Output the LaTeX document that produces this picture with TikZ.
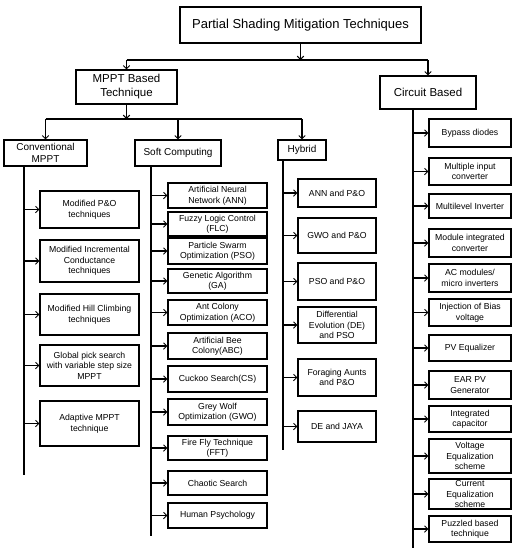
\documentclass[tikz,border=0pt]{standalone}
\usepackage{fontspec}
\setmainfont{Liberation Sans}
\usetikzlibrary{arrows.meta}
\begin{document}
\begin{tikzpicture}[x=1pt,y=-1pt,
  box/.style={draw, line width=1.2pt, inner sep=1pt, align=center},
  lvla/.style={box, font=\fontsize{13}{15}\selectfont},
  lvlb/.style={box, font=\fontsize{11.5}{14}\selectfont},
  lvlc/.style={box, font=\fontsize{10}{12}\selectfont},
  leaf/.style={box, font=\fontsize{8.7}{10.5}\selectfont},
  lleaf/.style={leaf, minimum width=99pt},
  sleaf/.style={leaf, minimum width=99pt},
  hleaf/.style={leaf, minimum width=78pt},
  cleaf/.style={leaf, minimum width=82pt},
  conn/.style={line width=1.2pt},
  arr/.style={conn, -{Straight Barb[length=3.2pt,width=6.5pt,line width=1pt]}}
]
\useasboundingbox (0,0) rectangle (517,550);

% top levels
\node[lvla, minimum width=241pt, minimum height=36pt] (title) at (300.5,25) {Partial Shading Mitigation Techniques};
\node[lvlb, minimum width=101pt, minimum height=34pt] (mppt) at (126.5,87) {MPPT Based\\Technique};
\node[lvlb, minimum width=96pt, minimum height=33pt] (circ) at (428,92.5) {Circuit Based};
\node[lvlc, minimum width=83pt, minimum height=26pt] (conv) at (45.5,153) {Conventional\\MPPT};
\node[lvlc, minimum width=86pt, minimum height=26pt] (soft) at (178,153) {Soft Computing};
\node[lvlc, minimum width=48pt, minimum height=20pt] (hyb) at (302,150) {Hybrid};

% conventional leaves
\node[lleaf, minimum height=37pt] (m1) at (89.5,209.5) {Modified P\&O\\techniques};
\node[lleaf, minimum height=42pt] (m2) at (89.5,261) {Modified Incremental\\Conductance\\techniques};
\node[lleaf, minimum height=41pt] (m3) at (89.5,314.5) {Modified Hill Climbing\\techniques};
\node[lleaf, minimum height=41pt] (m4) at (89.5,365.5) {Global pick search\\with variable step size\\MPPT};
\node[lleaf, minimum height=45pt] (m5) at (89.5,423.5) {Adaptive MPPT\\technique};

% soft computing leaves
\node[sleaf, minimum height=25pt] (s1) at (217.5,195.5) {Artificial Neural\\Network (ANN)};
\node[sleaf, minimum height=24pt] (s2) at (217.5,224) {Fuzzy Logic Control\\(FLC)};
\node[sleaf, minimum height=26pt] (s3) at (217.5,251) {Particle Swarm\\Optimization (PSO)};
\node[sleaf, minimum height=24pt] (s4) at (217.5,281) {Genetic Algorithm\\(GA)};
\node[sleaf, minimum height=25pt] (s5) at (217.5,312.5) {Ant Colony\\Optimization (ACO)};
\node[sleaf, minimum height=26pt] (s6) at (217.5,346) {Artificial Bee\\Colony(ABC)};
\node[sleaf, minimum height=26pt] (s7) at (217.5,379) {Cuckoo Search(CS)};
\node[sleaf, minimum height=26pt] (s8) at (217.5,412) {Grey Wolf\\Optimization (GWO)};
\node[sleaf, minimum height=24pt] (s9) at (217.5,448) {Fire Fly Technique\\(FFT)};
\node[sleaf, minimum height=24pt] (s10) at (217.5,483) {Chaotic Search};
\node[sleaf, minimum height=25pt] (s11) at (217.5,515.5) {Human Psychology};

% hybrid leaves
\node[hleaf, minimum height=28pt] (h1) at (337,193) {ANN and P\&O};
\node[hleaf, minimum height=35pt] (h2) at (337,235.5) {GWO and P\&O};
\node[hleaf, minimum height=37pt] (h3) at (337,281.5) {PSO and P\&O};
\node[hleaf, minimum height=36pt] (h4) at (337,325) {Differential\\Evolution (DE)\\and PSO};
\node[hleaf, minimum height=37pt] (h5) at (337,377.5) {Foraging Aunts\\and P\&O};
\node[hleaf, minimum height=31pt] (h6) at (337,426.5) {DE and JAYA};

% circuit leaves
\node[cleaf, minimum height=28pt] (c1) at (470,133) {Bypass diodes};
\node[cleaf, minimum height=27pt] (c2) at (470,171.5) {Multiple input\\converter};
\node[cleaf, minimum height=24pt] (c3) at (470,206) {Multilevel Inverter};
\node[cleaf, minimum height=28pt] (c4) at (470,243) {Module integrated\\converter};
\node[cleaf, minimum height=28pt] (c5) at (470,278) {AC modules/\\micro inverters};
\node[cleaf, minimum height=27pt] (c6) at (470,312.5) {Injection of Bias\\voltage};
\node[cleaf, minimum height=26pt] (c7) at (470,348) {PV Equalizer};
\node[cleaf, minimum height=28pt] (c8) at (470,385) {EAR PV\\Generator};
\node[cleaf, minimum height=26pt] (c9) at (470,419) {Integrated\\capacitor};
\node[cleaf, minimum height=34pt] (c10) at (470,456) {Voltage\\Equalization\\scheme};
\node[cleaf, minimum height=30pt] (c11) at (470,494) {Current\\Equalization\\scheme};
\node[cleaf, minimum height=26pt] (c12) at (470,529) {Puzzled based\\technique};

% junctions and line ends
\coordinate (j1) at (300.5,60);
\coordinate (j2) at (126.5,119);
\coordinate (cvl) at (24,475);
\coordinate (sfl) at (151,536);
\coordinate (hyl) at (283,450);
\coordinate (cil) at (413,548);

% top connectors
\draw[arr] (title.south) -- (j1);
\draw[conn] (mppt.north |- j1) -- (circ.north |- j1);
\draw[arr] (mppt.north |- j1) -- (mppt.north);
\draw[arr] (circ.north |- j1) -- (circ.north);

\draw[arr] (mppt.south) -- (j2);
\draw[conn] (conv.north |- j2) -- (hyb.north |- j2);
\draw[arr] (conv.north |- j2) -- (conv.north);
\draw[arr] (soft.north |- j2) -- (soft.north);
\draw[arr] (hyb.north |- j2) -- (hyb.north);

% trunks
\draw[conn] (cvl |- conv.south) -- (cvl);
\draw[conn] (sfl |- soft.south) -- (sfl);
\draw[conn] (hyl |- hyb.south) -- (hyl);
\draw[conn] (cil |- circ.south) -- (cil);

% branches
\foreach \i in {1,...,5} \draw[arr] (cvl |- m\i.west) -- (m\i.west);
\foreach \i in {1,...,11} \draw[arr] (sfl |- s\i.west) -- (s\i.west);
\foreach \i in {1,...,6} \draw[arr] (hyl |- h\i.west) -- (h\i.west);
\foreach \i in {1,...,12} \draw[arr] (cil |- c\i.west) -- (c\i.west);
\end{tikzpicture}
\end{document}
